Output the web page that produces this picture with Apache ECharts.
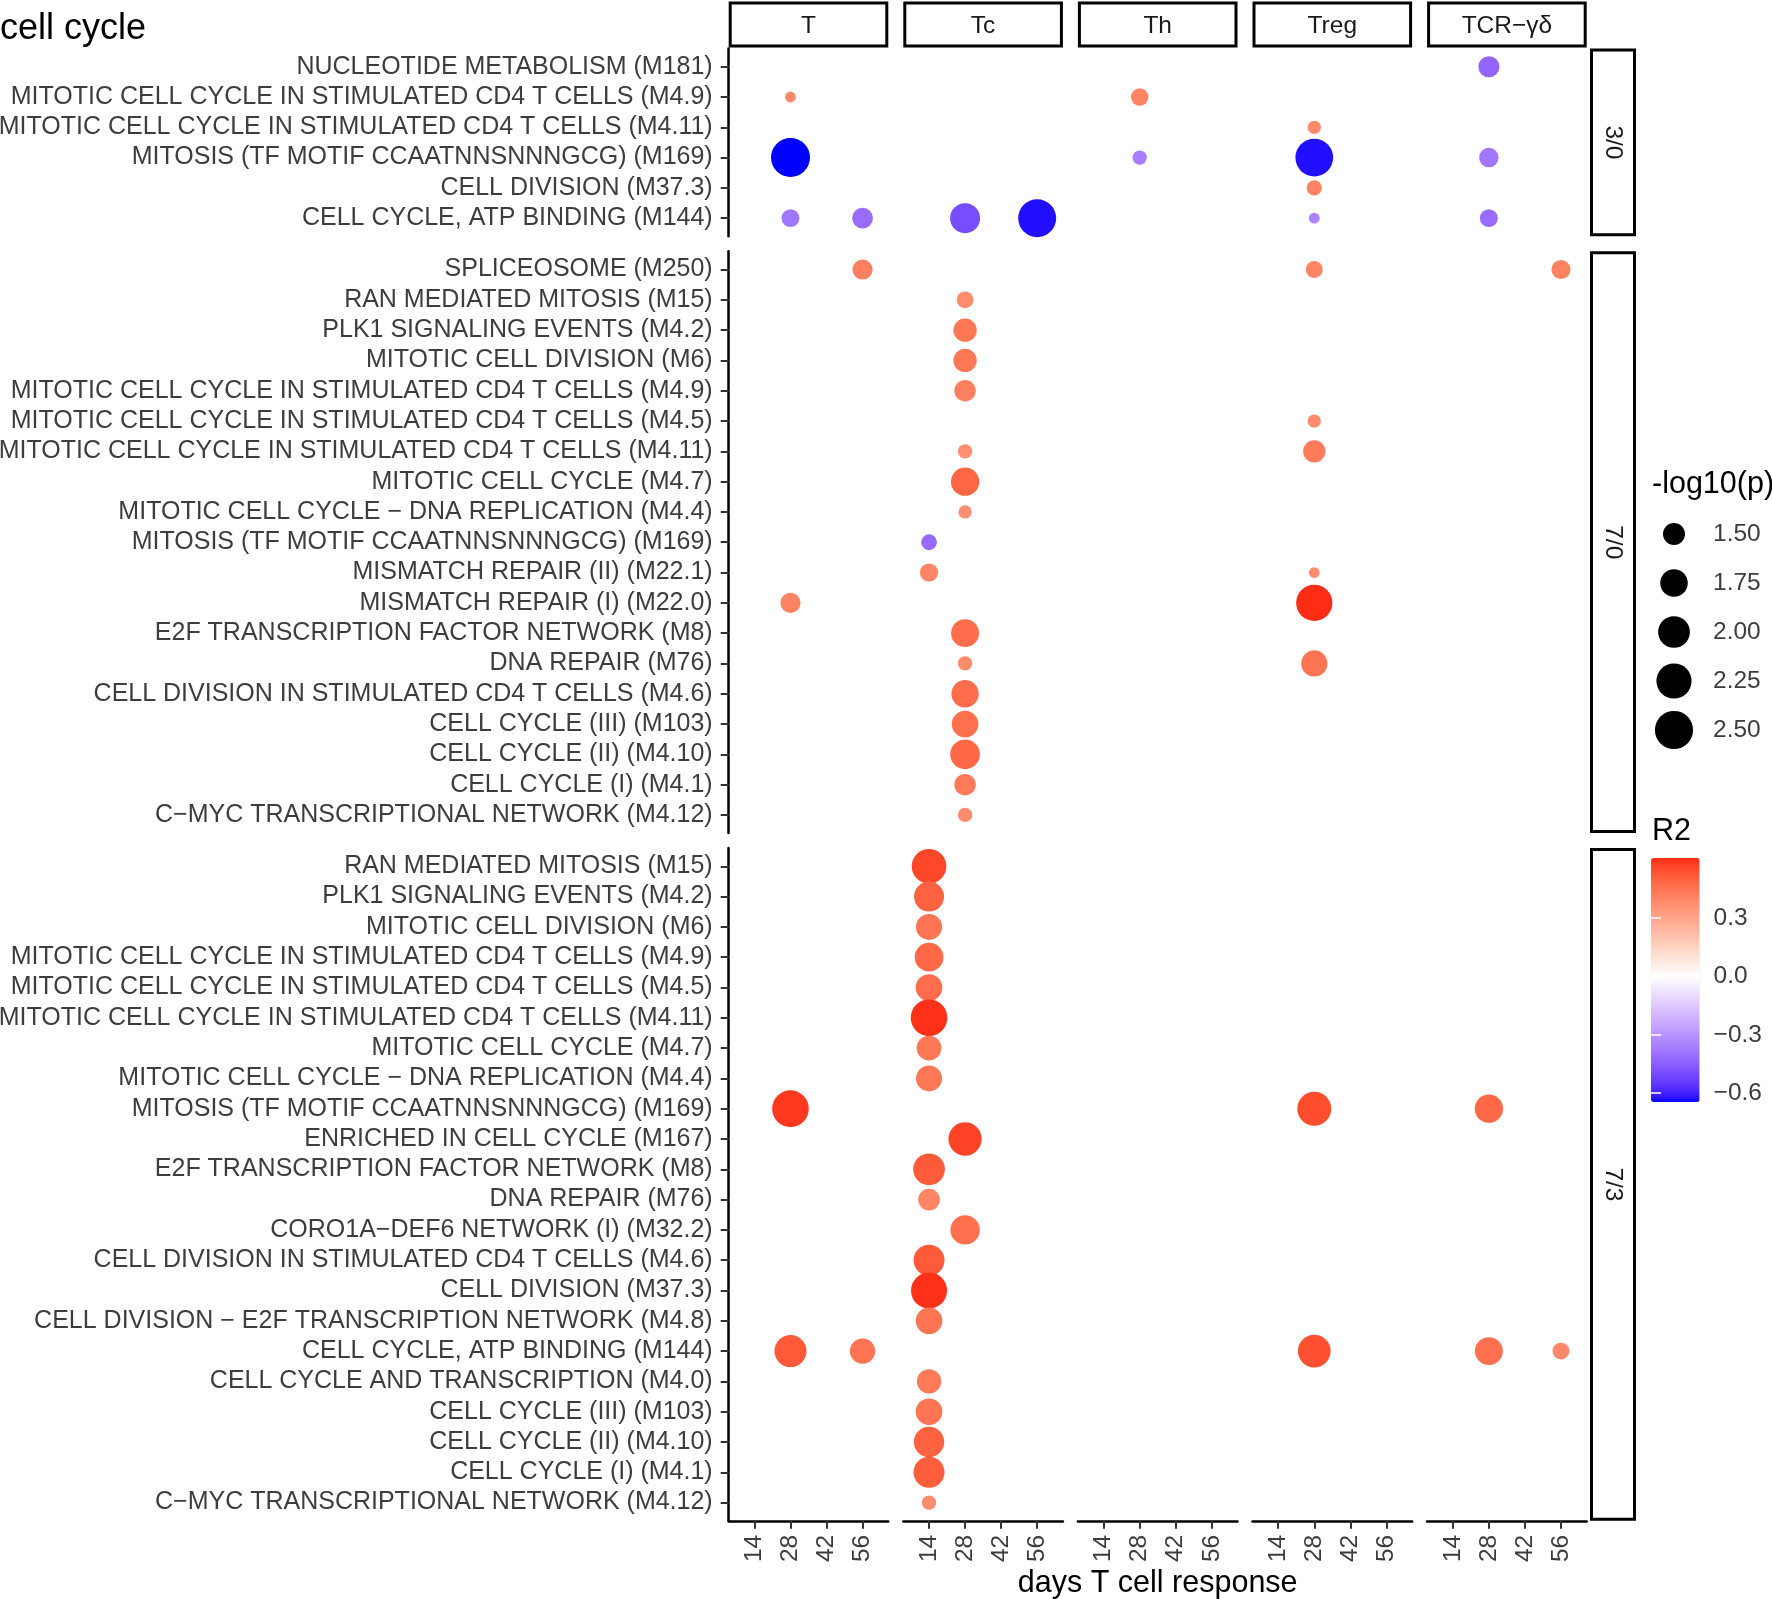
<!DOCTYPE html>
<html>
<head>
<meta charset="utf-8">
<title>cell cycle</title>
<script src="https://cdn.jsdelivr.net/npm/echarts@6.0.0/dist/echarts.min.js"></script>
<style>
  html, body { margin: 0; padding: 0; background: #fff; }
  #chart { width: 1772px; height: 1599px; }
</style>
</head>
<body>
<div id="chart"></div>
<script>
// facets
var cellTypes = ['T', 'Tc', 'Th', 'Treg', 'TCR\u2212\u03b3\u03b4'];
var timeGroups = ['3/0', '7/0', '7/3'];
var dayTicks = [14, 28, 42, 56];
var sizeBreaks = [1.5, 1.75, 2.0, 2.25, 2.5];
var r2Ticks = [0.3, 0.0, -0.3, -0.6];
var r2Range = [-0.646, 0.61];

var modules30 = [
  'NUCLEOTIDE METABOLISM (M181)',
  'MITOTIC CELL CYCLE IN STIMULATED CD4 T CELLS (M4.9)',
  'MITOTIC CELL CYCLE IN STIMULATED CD4 T CELLS (M4.11)',
  'MITOSIS (TF MOTIF CCAATNNSNNNGCG) (M169)',
  'CELL DIVISION (M37.3)',
  'CELL CYCLE, ATP BINDING (M144)'
];
var modules70 = [
  'SPLICEOSOME (M250)',
  'RAN MEDIATED MITOSIS (M15)',
  'PLK1 SIGNALING EVENTS (M4.2)',
  'MITOTIC CELL DIVISION (M6)',
  'MITOTIC CELL CYCLE IN STIMULATED CD4 T CELLS (M4.9)',
  'MITOTIC CELL CYCLE IN STIMULATED CD4 T CELLS (M4.5)',
  'MITOTIC CELL CYCLE IN STIMULATED CD4 T CELLS (M4.11)',
  'MITOTIC CELL CYCLE (M4.7)',
  'MITOTIC CELL CYCLE \u2212 DNA REPLICATION (M4.4)',
  'MITOSIS (TF MOTIF CCAATNNSNNNGCG) (M169)',
  'MISMATCH REPAIR (II) (M22.1)',
  'MISMATCH REPAIR (I) (M22.0)',
  'E2F TRANSCRIPTION FACTOR NETWORK (M8)',
  'DNA REPAIR (M76)',
  'CELL DIVISION IN STIMULATED CD4 T CELLS (M4.6)',
  'CELL CYCLE (III) (M103)',
  'CELL CYCLE (II) (M4.10)',
  'CELL CYCLE (I) (M4.1)',
  'C\u2212MYC TRANSCRIPTIONAL NETWORK (M4.12)'
];
var modules73 = [
  'RAN MEDIATED MITOSIS (M15)',
  'PLK1 SIGNALING EVENTS (M4.2)',
  'MITOTIC CELL DIVISION (M6)',
  'MITOTIC CELL CYCLE IN STIMULATED CD4 T CELLS (M4.9)',
  'MITOTIC CELL CYCLE IN STIMULATED CD4 T CELLS (M4.5)',
  'MITOTIC CELL CYCLE IN STIMULATED CD4 T CELLS (M4.11)',
  'MITOTIC CELL CYCLE (M4.7)',
  'MITOTIC CELL CYCLE \u2212 DNA REPLICATION (M4.4)',
  'MITOSIS (TF MOTIF CCAATNNSNNNGCG) (M169)',
  'ENRICHED IN CELL CYCLE (M167)',
  'E2F TRANSCRIPTION FACTOR NETWORK (M8)',
  'DNA REPAIR (M76)',
  'CORO1A\u2212DEF6 NETWORK (I) (M32.2)',
  'CELL DIVISION IN STIMULATED CD4 T CELLS (M4.6)',
  'CELL DIVISION (M37.3)',
  'CELL DIVISION \u2212 E2F TRANSCRIPTION NETWORK (M4.8)',
  'CELL CYCLE, ATP BINDING (M144)',
  'CELL CYCLE AND TRANSCRIPTION (M4.0)',
  'CELL CYCLE (III) (M103)',
  'CELL CYCLE (II) (M4.10)',
  'CELL CYCLE (I) (M4.1)',
  'C\u2212MYC TRANSCRIPTIONAL NETWORK (M4.12)'
];

// [module row, cell type, day, -log10(p), R2]
var points30 = [
  [0, 'TCR\u2212\u03b3\u03b4', 28, 1.47, -0.43],
  [1, 'T', 28, 1.30, 0.39],
  [1, 'Th', 28, 1.37, 0.40],
  [2, 'Treg', 28, 1.31, 0.39],
  [3, 'T', 28, 2.57, -0.646],
  [3, 'Th', 28, 1.32, -0.36],
  [3, 'Treg', 28, 2.46, -0.63],
  [3, 'TCR\u2212\u03b3\u03b4', 28, 1.42, -0.38],
  [4, 'Treg', 28, 1.33, 0.41],
  [5, 'T', 28, 1.38, -0.38],
  [5, 'T', 56, 1.46, -0.41],
  [5, 'Tc', 28, 1.89, -0.50],
  [5, 'Tc', 56, 2.48, -0.63],
  [5, 'Treg', 28, 1.30, -0.35],
  [5, 'TCR\u2212\u03b3\u03b4', 28, 1.38, -0.41]
];
var points70 = [
  [0, 'T', 56, 1.44, 0.42],
  [0, 'Treg', 28, 1.36, 0.40],
  [0, 'TCR\u2212\u03b3\u03b4', 56, 1.41, 0.41],
  [1, 'Tc', 28, 1.36, 0.38],
  [2, 'Tc', 28, 1.55, 0.44],
  [3, 'Tc', 28, 1.55, 0.44],
  [4, 'Tc', 28, 1.48, 0.42],
  [5, 'Treg', 28, 1.31, 0.38],
  [6, 'Tc', 28, 1.32, 0.37],
  [6, 'Treg', 28, 1.51, 0.43],
  [7, 'Tc', 28, 1.79, 0.49],
  [8, 'Tc', 28, 1.31, 0.37],
  [9, 'Tc', 14, 1.34, -0.42],
  [10, 'Tc', 14, 1.39, 0.40],
  [10, 'Treg', 28, 1.30, 0.38],
  [11, 'T', 28, 1.44, 0.41],
  [11, 'Treg', 28, 2.34, 0.61],
  [12, 'Tc', 28, 1.77, 0.47],
  [13, 'Tc', 28, 1.32, 0.38],
  [13, 'Treg', 28, 1.68, 0.45],
  [14, 'Tc', 28, 1.74, 0.47],
  [15, 'Tc', 28, 1.70, 0.46],
  [16, 'Tc', 28, 1.87, 0.48],
  [17, 'Tc', 28, 1.48, 0.43],
  [18, 'Tc', 28, 1.32, 0.38]
];
var points73 = [
  [0, 'Tc', 14, 2.21, 0.56],
  [1, 'Tc', 14, 1.89, 0.50],
  [2, 'Tc', 14, 1.67, 0.45],
  [3, 'Tc', 14, 1.81, 0.48],
  [4, 'Tc', 14, 1.70, 0.47],
  [5, 'Tc', 14, 2.37, 0.60],
  [6, 'Tc', 14, 1.61, 0.44],
  [7, 'Tc', 14, 1.67, 0.44],
  [8, 'T', 28, 2.37, 0.59],
  [8, 'Treg', 28, 2.16, 0.55],
  [8, 'TCR\u2212\u03b3\u03b4', 28, 1.79, 0.48],
  [9, 'Tc', 28, 2.11, 0.57],
  [10, 'Tc', 14, 2.00, 0.52],
  [11, 'Tc', 14, 1.49, 0.40],
  [12, 'Tc', 28, 1.85, 0.46],
  [13, 'Tc', 14, 1.95, 0.52],
  [14, 'Tc', 14, 2.32, 0.60],
  [15, 'Tc', 14, 1.70, 0.45],
  [16, 'T', 28, 2.02, 0.52],
  [16, 'T', 56, 1.64, 0.45],
  [16, 'Treg', 28, 2.07, 0.54],
  [16, 'TCR\u2212\u03b3\u03b4', 28, 1.77, 0.46],
  [16, 'TCR\u2212\u03b3\u03b4', 56, 1.36, 0.39],
  [17, 'Tc', 14, 1.59, 0.43],
  [18, 'Tc', 14, 1.70, 0.45],
  [19, 'Tc', 14, 1.91, 0.50],
  [20, 'Tc', 14, 1.95, 0.51],
  [21, 'Tc', 14, 1.32, 0.38]
];

var modules = [modules30, modules70, modules73];
var points = [points30, points70, points73];

// layout
var FONT = '"Liberation Sans", Helvetica, Arial, sans-serif';
var panelLeft = 728.7, panelStep = 174.6, panelW = 159.6;
var rowStep = 30.3, panelGap = 15, firstTop = 48.5;
var panelTops = [], panelHeights = [];
(function () {
  var y = firstTop;
  modules.forEach(function (m) {
    var h = (m.length - 1 + 1.2) * rowStep;
    panelTops.push(y);
    panelHeights.push(h);
    y += h + panelGap;
  });
})();

// ggplot-like area size scale
function sizeOf(v) {
  return 10.8 + 25 * Math.sqrt(Math.max(0, v - 1.3));
}

// diverging gradient blue - white - red, interpolated in Lab
function toLab(rgb) {
  var lin = rgb.map(function (c) {
    c /= 255;
    return c <= 0.04045 ? c / 12.92 : Math.pow((c + 0.055) / 1.055, 2.4);
  });
  var X = (0.4124 * lin[0] + 0.3576 * lin[1] + 0.1805 * lin[2]) / 0.95047;
  var Y = 0.2126 * lin[0] + 0.7152 * lin[1] + 0.0722 * lin[2];
  var Z = (0.0193 * lin[0] + 0.1192 * lin[1] + 0.9505 * lin[2]) / 1.08883;
  var f = function (t) { return t > 0.008856 ? Math.cbrt(t) : 7.787 * t + 16 / 116; };
  return [116 * f(Y) - 16, 500 * (f(X) - f(Y)), 200 * (f(Y) - f(Z))];
}
function fromLab(lab) {
  var fy = (lab[0] + 16) / 116, fx = fy + lab[1] / 500, fz = fy - lab[2] / 200;
  var inv = function (t) { return t > 0.206893 ? t * t * t : (t - 16 / 116) / 7.787; };
  var X = inv(fx) * 0.95047, Y = inv(fy), Z = inv(fz) * 1.08883;
  var lin = [
    3.2406 * X - 1.5372 * Y - 0.4986 * Z,
    -0.9689 * X + 1.8758 * Y + 0.0415 * Z,
    0.0557 * X - 0.2040 * Y + 1.0570 * Z
  ];
  return '#' + lin.map(function (c) {
    c = Math.min(1, Math.max(0, c));
    c = c <= 0.0031308 ? 12.92 * c : 1.055 * Math.pow(c, 1 / 2.4) - 0.055;
    var s = Math.round(c * 255).toString(16);
    return s.length < 2 ? '0' + s : s;
  }).join('');
}
var labWhite = toLab([255, 255, 255]), labBlue = toLab([0, 0, 255]), labRed = toLab([255, 0, 0]);
var maxAbs = Math.max(Math.abs(r2Range[0]), Math.abs(r2Range[1]));
function r2Color(v) {
  var t = Math.min(1, Math.abs(v) / maxAbs);
  var end = v < 0 ? labBlue : labRed;
  return fromLab(labWhite.map(function (w, i) { return w + (end[i] - w) * t; }));
}
var colorStops = [];
for (var i = 0; i <= 60; i++) {
  colorStops.push(r2Color(r2Range[0] + (r2Range[1] - r2Range[0]) * i / 60));
}

function minusSign(s) { return String(s).replace('-', '\u2212'); }

var grids = [], xAxes = [], yAxes = [], series = [], graphics = [];

modules.forEach(function (mods, r) {
  var idx = mods.map(function (m, k) { return k; });
  cellTypes.forEach(function (ct, c) {
    var g = grids.length;
    grids.push({
      left: panelLeft + c * panelStep, top: panelTops[r],
      width: panelW, height: panelHeights[r], outerBoundsMode: 'none'
    });
    var bottomRow = r === modules.length - 1;
    xAxes.push({
      type: 'value', gridIndex: g, min: 4, max: 66, position: 'bottom',
      axisLine: { show: bottomRow, onZero: false, lineStyle: { color: '#000', width: 2.5 } },
      axisTick: { show: bottomRow, customValues: dayTicks, length: 8, lineStyle: { color: '#333', width: 2 } },
      axisLabel: { show: bottomRow, customValues: dayTicks, rotate: 90, margin: 14,
        fontSize: 24.5, color: '#3d3d3d', fontFamily: FONT },
      splitLine: { show: false },
      name: (bottomRow && c === 2) ? 'days T cell response' : '',
      nameLocation: 'middle', nameGap: 47,
      nameTextStyle: { fontSize: 30.5, color: '#000', fontFamily: FONT }
    });
    yAxes.push({
      type: 'value', gridIndex: g, min: -0.6, max: mods.length - 0.4, inverse: true,
      axisLine: { show: c === 0, onZero: false, lineStyle: { color: '#000', width: 2.5 } },
      axisTick: { show: c === 0, customValues: idx, length: 8, lineStyle: { color: '#333', width: 2 } },
      axisLabel: { show: c === 0, customValues: idx, margin: 16, fontSize: 25,
        color: '#3d3d3d', fontFamily: FONT, padding: [4, 0, 0, 0],
        formatter: function (v) { return mods[Math.round(v)]; } },
      splitLine: { show: false }
    });
    series.push({
      type: 'scatter', xAxisIndex: g, yAxisIndex: g, silent: true,
      symbolSize: function (val) { return sizeOf(val[2]); },
      itemStyle: { opacity: 1 },
      data: points[r].filter(function (p) { return p[1] === ct; })
        .map(function (p) { return [p[2], p[0], p[3], p[4]]; })
    });
    // column strip on top
    if (r === 0) {
      var x0 = panelLeft + c * panelStep;
      graphics.push({ type: 'rect', shape: { x: x0 + 1.5, y: 3, width: panelW - 3, height: 43 },
        style: { fill: '#fff', stroke: '#000', lineWidth: 3 } });
      graphics.push({ type: 'text', x: x0 + panelW / 2, y: 26,
        style: { text: ct, textAlign: 'center', textVerticalAlign: 'middle',
          fontSize: 24.5, fontFamily: FONT, fill: '#1a1a1a' } });
    }
  });
  // row strip on the right
  var sx = panelLeft + 4 * panelStep + panelW + 3.3;
  graphics.push({ type: 'rect', shape: { x: sx + 1.5, y: panelTops[r] + 1.5, width: 43, height: panelHeights[r] - 3 },
    style: { fill: '#fff', stroke: '#000', lineWidth: 3 } });
  graphics.push({ type: 'text', x: sx + 23, y: panelTops[r] + panelHeights[r] / 2, rotation: -Math.PI / 2,
    style: { text: timeGroups[r], textAlign: 'center', textVerticalAlign: 'middle',
      fontSize: 24.5, fontFamily: FONT, fill: '#1a1a1a' } });
});

var mainSeries = series.map(function (s, k) { return k; });

// colour bar axes (ticks and labels over the visualMap bar)
var cbGrid = grids.length;
grids.push({ left: 1651, top: 858, width: 48.6, height: 244, outerBoundsMode: 'none' });
xAxes.push({ type: 'value', gridIndex: cbGrid, show: false });
yAxes.push({
  type: 'value', gridIndex: cbGrid, min: r2Range[0], max: r2Range[1], position: 'right', z: 10,
  axisLine: { show: false },
  axisTick: { inside: true, customValues: r2Ticks, length: 10, lineStyle: { color: '#fff', width: 1.5 } },
  axisLabel: { customValues: r2Ticks, margin: 14, fontSize: 24.5, color: '#3d3d3d', fontFamily: FONT,
    padding: [3, 0, 0, 0],
    formatter: function (v) { return minusSign(v.toFixed(1)); } },
  splitLine: { show: false }
});
xAxes.push({ type: 'value', gridIndex: cbGrid, show: false });
yAxes.push({
  type: 'value', gridIndex: cbGrid, min: r2Range[0], max: r2Range[1], position: 'left', z: 10,
  axisLine: { show: false },
  axisTick: { inside: true, customValues: r2Ticks, length: 10, lineStyle: { color: '#fff', width: 1.5 } },
  axisLabel: { show: false },
  splitLine: { show: false }
});

// size legend
var sgGrid = grids.length;
grids.push({ left: 1650, top: 509.5, width: 48, height: 245, outerBoundsMode: 'none' });
xAxes.push({ type: 'category', gridIndex: sgGrid, data: [''], show: false });
yAxes.push({
  type: 'category', gridIndex: sgGrid, inverse: true, position: 'right',
  data: sizeBreaks.map(function (b) { return b.toFixed(2); }),
  axisLine: { show: false }, axisTick: { show: false },
  axisLabel: { margin: 15, fontSize: 24.5, color: '#3d3d3d', fontFamily: FONT, padding: [3, 0, 0, 0] }
});
series.push({
  type: 'scatter', xAxisIndex: xAxes.length - 1, yAxisIndex: yAxes.length - 1, silent: true,
  symbolSize: function (val) { return sizeOf(val[2]); },
  itemStyle: { color: '#000', opacity: 1 },
  data: sizeBreaks.map(function (b, k) { return [0, k, b]; })
});

var chart = echarts.init(document.getElementById('chart'));
chart.setOption({
  animation: false,
  backgroundColor: '#fff',
  textStyle: { fontFamily: FONT },
  title: [
    { text: 'cell cycle', left: 0, top: 11, padding: 0,
      textStyle: { fontSize: 36, fontWeight: 'normal', color: '#000', fontFamily: FONT } },
    { text: '-log10(p)', left: 1652, top: 469, padding: 0,
      textStyle: { fontSize: 30.5, fontWeight: 'normal', color: '#000', fontFamily: FONT } },
    { text: 'R2', left: 1652, top: 816, padding: 0,
      textStyle: { fontSize: 30.5, fontWeight: 'normal', color: '#000', fontFamily: FONT } }
  ],
  grid: grids,
  xAxis: xAxes,
  yAxis: yAxes,
  visualMap: {
    type: 'continuous', min: r2Range[0], max: r2Range[1], dimension: 3,
    seriesIndex: mainSeries, calculable: false, hoverLink: false,
    left: 1651, top: 858, padding: 0, itemWidth: 48.6, itemHeight: 244,
    inRange: { color: colorStops }
  },
  graphic: graphics,
  series: series
});
</script>
</body>
</html>
